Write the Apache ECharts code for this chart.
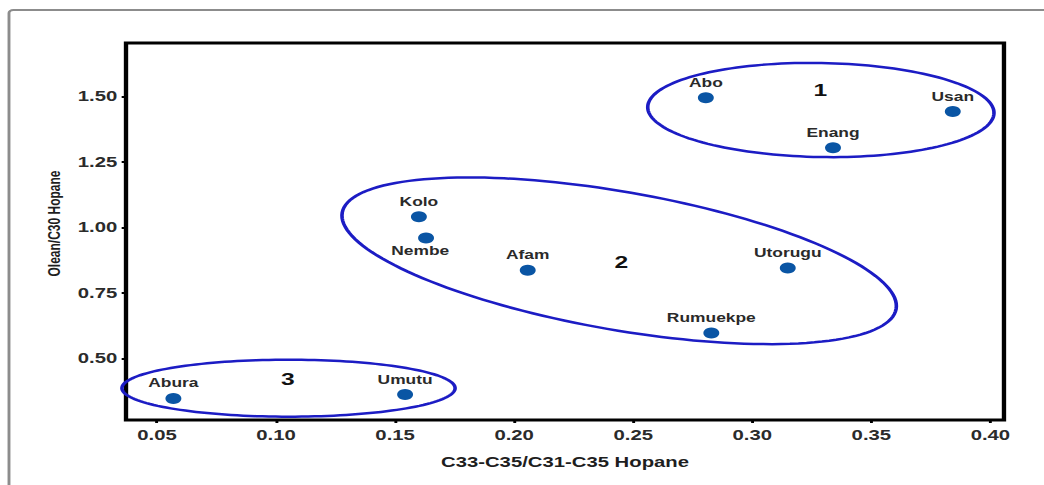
<!DOCTYPE html>
<html>
<head>
<meta charset="utf-8">
<script src="https://cdn.jsdelivr.net/npm/echarts@6/dist/echarts.min.js"></script>
<style>
  html, body { margin: 0; padding: 0; background: #fff; overflow: hidden; }
  /* the figure is laid out narrow and widened horizontally */
  #chart { width: 720px; height: 485px; transform: scaleX(1.45); transform-origin: 0 0; }
</style>
</head>
<body>
<div id="chart"></div>
<script>
// Oil samples: C33-C35/C31-C35 homohopane ratio vs oleanane/C30 hopane ratio
const wellNames    = ['Abo', 'Usan', 'Enang', 'Kolo', 'Nembe', 'Afam', 'Utorugu', 'Rumuekpe', 'Abura', 'Umutu'];
const homohopane   = [0.2805, 0.3842, 0.3339, 0.1600, 0.1630, 0.2057, 0.3149, 0.2828, 0.0569, 0.1542];
const oleanane     = [1.496, 1.443, 1.305, 1.041, 0.960, 0.837, 0.846, 0.597, 0.347, 0.362];

const xTicks = [0.05, 0.10, 0.15, 0.20, 0.25, 0.30, 0.35, 0.40];
const yTicks = [0.50, 0.75, 1.00, 1.25, 1.50];

// Oil families: ellipse given by centre and two conjugate semi-diameter end points (data units)
const familyLabels    = ['1', '2', '3'];
const familyCentres   = [[0.3288, 1.449], [0.2441, 0.8731], [0.10525, 0.3865]];
const familyMajorEnds = [[0.4015, 1.4375], [0.3604, 0.6892], [0.1752, 0.3865]];
const familyMinorEnds = [[0.3285, 1.2694], [0.2391, 0.6132], [0.10525, 0.2776]];
const familyLabelPos  = [[0.3286, 1.5256], [0.2450, 0.8685], [0.1050, 0.4235]];

const FONT = '"Liberation Sans", Arial, sans-serif';

const pointData = wellNames.map((name, i) => {
  const item = { name: name, value: [homohopane[i], oleanane[i]] };
  if (name === 'Nembe') {
    item.label = { position: 'bottom', distance: 1, offset: [-4, 0] };
  }
  return item;
});

const familyData = familyLabels.map((lab, i) => [
  familyCentres[i][0], familyCentres[i][1],
  familyMajorEnds[i][0], familyMajorEnds[i][1],
  familyMinorEnds[i][0], familyMinorEnds[i][1],
  familyLabelPos[i][0], familyLabelPos[i][1]
]);

function renderFamily(params, api) {
  const c = api.coord([api.value(0), api.value(1)]);
  const u = api.coord([api.value(2), api.value(3)]);
  const v = api.coord([api.value(4), api.value(5)]);
  const l = api.coord([api.value(6), api.value(7)]);
  const pts = [];
  const n = 160;
  for (let k = 0; k <= n; k++) {
    const t = (k / n) * Math.PI * 2;
    const ct = Math.cos(t), st = Math.sin(t);
    pts.push([
      c[0] + ct * (u[0] - c[0]) + st * (v[0] - c[0]),
      c[1] + ct * (u[1] - c[1]) + st * (v[1] - c[1])
    ]);
  }
  return {
    type: 'group',
    children: [
      {
        type: 'polygon',
        shape: { points: pts },
        style: { fill: 'none', stroke: '#1c1cc4', lineWidth: 2.5 }
      },
      {
        type: 'text',
        x: l[0], y: l[1],
        style: {
          text: familyLabels[params.dataIndex],
          fontSize: 17, fontWeight: 'bold', fontFamily: FONT,
          fill: '#111', align: 'center', verticalAlign: 'middle'
        }
      }
    ]
  };
}

const chart = echarts.init(document.getElementById('chart'), null, { renderer: 'svg' });

chart.setOption({
  animation: false,
  backgroundColor: '#fff',
  graphic: [{
    type: 'rect',
    z: -10,
    shape: { x: 6.2, y: 10, width: 1000, height: 1000, r: 3 },
    style: { fill: 'none', stroke: '#8c8c8c', lineWidth: 2 }
  }],
  grid: {
    left: 86.9, right: 27.6, top: 43, bottom: 65,
    show: true, borderColor: '#000', borderWidth: 3
  },
  xAxis: {
    type: 'value',
    min: 0.037, max: 0.4057,
    axisLine: { show: false },
    splitLine: { show: false },
    axisTick: { customValues: xTicks, length: 3, lineStyle: { color: '#000', width: 2 } },
    axisLabel: {
      customValues: xTicks,
      formatter: v => v.toFixed(2),
      margin: 8, color: '#2b2b2b', fontSize: 14, fontWeight: 'bold', fontFamily: FONT
    },
    name: 'C33-C35/C31-C35 Hopane',
    nameLocation: 'middle',
    nameGap: 35,
    nameTextStyle: { color: '#1e1e1e', fontSize: 14, fontWeight: 'bold', fontFamily: FONT }
  },
  yAxis: {
    type: 'value',
    min: 0.265, max: 1.705,
    axisLine: { show: false },
    splitLine: { show: false },
    axisTick: { customValues: yTicks, length: 3, lineStyle: { color: '#000', width: 2 } },
    axisLabel: {
      customValues: yTicks,
      formatter: v => v.toFixed(2),
      margin: 6, color: '#2b2b2b', fontSize: 14, fontWeight: 'bold', fontFamily: FONT
    },
    name: 'Olean/C30 Hopane',
    nameLocation: 'middle',
    nameGap: 41,
    nameRotate: 90,
    nameTextStyle: {
      color: '#1e1e1e', fontSize: 12, fontWeight: 'bold', fontFamily: FONT,
      padding: [0, 0, 0, 16]
    }
  },
  series: [
    {
      type: 'custom',
      z: 2,
      clip: false,
      renderItem: renderFamily,
      encode: { x: [0, 2, 4, 6], y: [1, 3, 5, 7] },
      data: familyData,
      silent: true
    },
    {
      type: 'scatter',
      z: 3,
      symbol: 'circle',
      symbolSize: 11,
      itemStyle: { color: '#0a55a4', opacity: 1 },
      label: {
        show: true,
        position: 'top',
        distance: 4,
        formatter: p => p.name,
        color: '#2a2a2a', fontSize: 12, fontWeight: 'bold', fontFamily: FONT
      },
      data: pointData
    }
  ]
});
</script>
</body>
</html>
